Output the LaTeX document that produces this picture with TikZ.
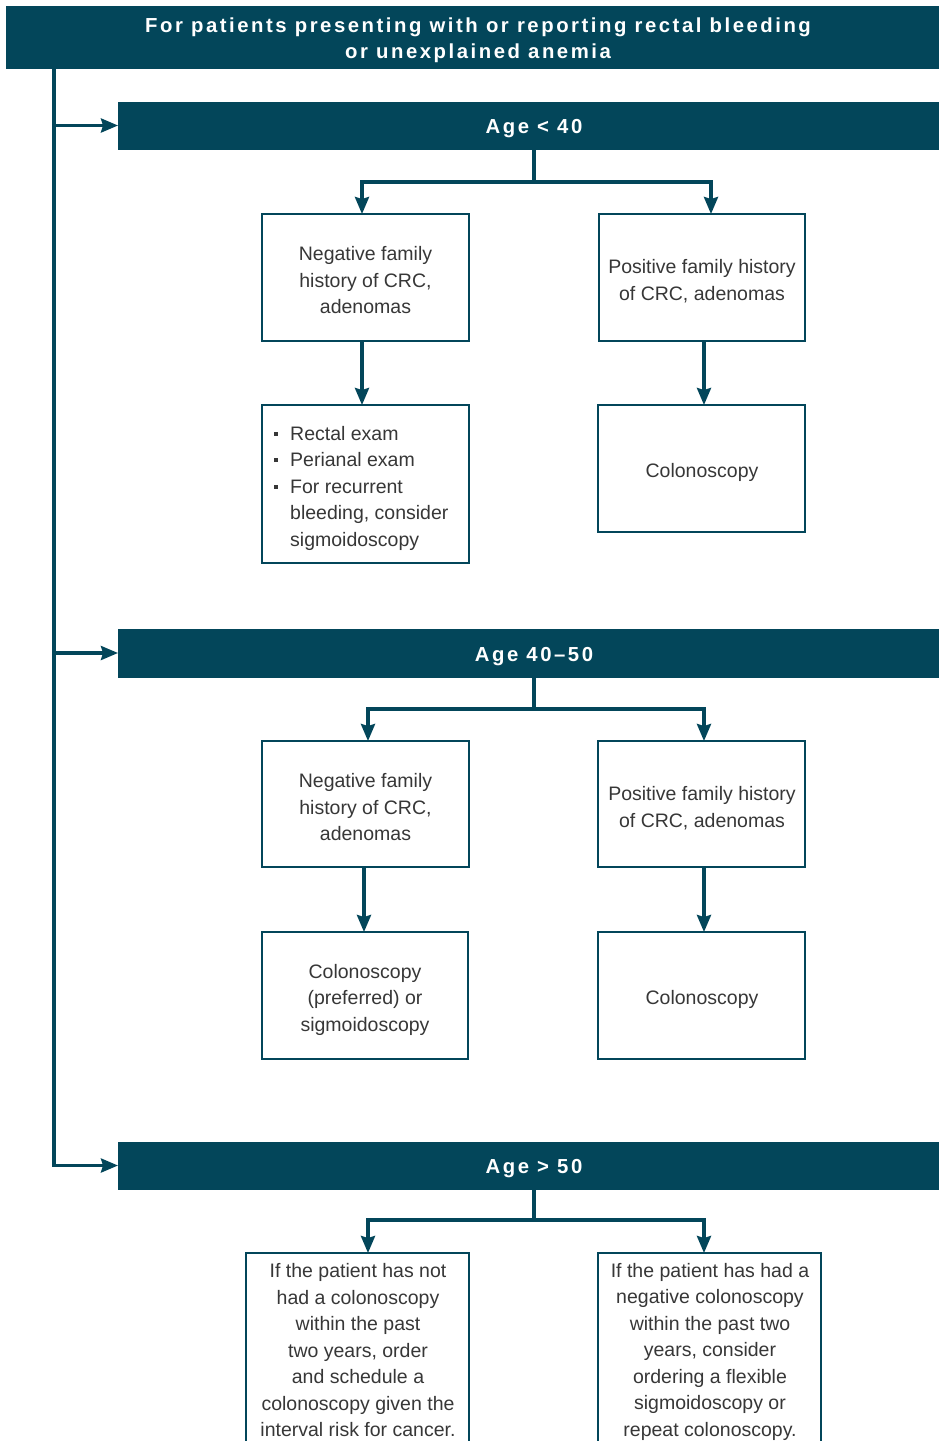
\documentclass[tikz,border=0pt]{standalone}
\usepackage{fontspec}
\setmainfont{Liberation Sans}
\newfontfamily\headfont[LetterSpace=12.5]{Liberation Sans Bold}
\usetikzlibrary{arrows.meta}
\definecolor{teal}{RGB}{3,70,90}
\definecolor{txt}{RGB}{55,55,55}
\tikzset{
  banner/.style={fill=teal,draw=teal,inner sep=0pt,outer sep=0pt,anchor=north west},
  htxt/.style={text=white,font=\headfont\fontsize{20.3}{26}\selectfont,align=center,inner sep=0pt},
  box/.style={draw=teal,line width=1.2pt,inner sep=0pt,outer sep=0pt,anchor=north west,text=txt},
  btxt/.style={text=txt,inner sep=0pt,align=center,font=\fontsize{19.5}{26.5}\selectfont},
  conn/.style={draw=teal,line width=3.2pt},
  arr/.style={conn,-{Stealth[length=17pt,width=14pt,inset=2pt]}},
}
\newcommand{\sqb}{\makebox[16pt][l]{\rule[4.5pt]{4pt}{4pt}}}
\begin{document}
\begin{tikzpicture}[x=1pt,y=-1pt]
\clip (0,0) rectangle (939,1441);
\useasboundingbox (0,0) rectangle (939,1441);
\fill[white] (0,0) rectangle (939,1441);
% banners
\node[banner,minimum width=933pt,minimum height=62pt] (top) at (6,6) {};
\node[htxt] (toptxt) at (478,40) {For patients presenting with or reporting rectal bleeding\\or unexplained anemia};
\node[banner,minimum width=821pt,minimum height=47pt] (age1) at (118,102) {};
\node[htxt] (age1t) at (534,128.5) {Age < 40};
\node[banner,minimum width=821pt,minimum height=48pt] (age2) at (118,629) {};
\node[htxt] (age2t) at (534,656.5) {Age 40–50};
\node[banner,minimum width=821pt,minimum height=47pt] (age3) at (118,1142) {};
\node[htxt] (age3t) at (534,1168.5) {Age > 50};
% section 1 boxes
\node[box,minimum width=207pt,minimum height=127pt] (nf1) at (262,214) {};
\node[btxt] (nf1t) at (365.5,280.5) {Negative family\\history of CRC,\\adenomas};
\node[box,minimum width=206pt,minimum height=127pt] (pf1) at (599,214) {};
\node[btxt] (pf1t) at (702,281) {Positive family history\\of CRC, adenomas};
\node[box,minimum width=207pt,minimum height=158pt] (r1) at (262,405) {};
\node[btxt,align=left,anchor=west] (r1t) at (274,488) {\sqb Rectal exam\\\sqb Perianal exam\\\sqb For recurrent\\\hspace*{16pt}bleeding, consider\\\hspace*{16pt}sigmoidoscopy};
\node[box,minimum width=207pt,minimum height=127pt] (c1) at (598,405) {};
\node[btxt] (c1t) at (702,472) {Colonoscopy};
% section 2 boxes
\node[box,minimum width=207pt,minimum height=126pt] (nf2) at (262,741) {};
\node[btxt] (nf2t) at (365.5,807.5) {Negative family\\history of CRC,\\adenomas};
\node[box,minimum width=207pt,minimum height=126pt] (pf2) at (598,741) {};
\node[btxt] (pf2t) at (702,808) {Positive family history\\of CRC, adenomas};
\node[box,minimum width=206pt,minimum height=127pt] (cp2) at (262,932) {};
\node[btxt] (cp2t) at (365,999.5) {Colonoscopy\\(preferred) or\\sigmoidoscopy};
\node[box,minimum width=207pt,minimum height=127pt] (c2) at (598,932) {};
\node[btxt] (c2t) at (702,999) {Colonoscopy};
% section 3 boxes
\node[box,minimum width=223pt,minimum height=200pt] (l3) at (246,1253) {};
\node[btxt] (l3t) at (358,1350.5) {If the patient has not\\had a colonoscopy\\within the past\\two years, order\\and schedule a\\colonoscopy given the\\interval risk for cancer.};
\node[box,minimum width=223pt,minimum height=200pt] (r3) at (598,1253) {};
\node[btxt] (r3t) at (710,1351.5) {If the patient has had a\\negative colonoscopy\\within the past two\\years, consider\\ordering a flexible\\sigmoidoscopy or\\repeat colonoscopy.};
% trunk
\coordinate (tr) at (54,0);
\draw[conn] (tr |- top.south) -- (tr |- age3.west);
\draw[arr] ([xshift=-1.6pt]tr |- age1.west) -- (age1.west);
\draw[arr] ([xshift=-1.6pt]tr |- age2.west) -- (age2.west);
\draw[arr] ([xshift=-1.6pt]tr |- age3.west) -- (age3.west);
% section 1 connectors
\coordinate (s1) at (534,182);
\coordinate (j1L) at (362,182);
\coordinate (j1R) at (711,182);
\draw[arr] (s1 |- age1.south) -- (s1) -- (j1L) -- (j1L |- nf1.north);
\draw[arr] (s1) -- (j1R) -- (j1R |- pf1.north);
\draw[arr] ([xshift=-3.5pt]nf1.south) -- ([xshift=-3.5pt]r1.north);
\draw[arr] ([xshift=2pt]pf1.south) -- ([xshift=2pt]pf1.south |- c1.north);
% section 2 connectors
\coordinate (s2) at (534,709);
\coordinate (j2L) at (368,709);
\coordinate (j2R) at (704,709);
\draw[arr] (s2 |- age2.south) -- (s2) -- (j2L) -- (j2L |- nf2.north);
\draw[arr] (s2) -- (j2R) -- (j2R |- pf2.north);
\draw[arr] ([xshift=-1.5pt]nf2.south) -- ([xshift=-1.5pt]nf2.south |- cp2.north);
\draw[arr] ([xshift=2.5pt]pf2.south) -- ([xshift=2.5pt]c2.north);
% section 3 connectors
\coordinate (s3) at (534,1220);
\coordinate (j3L) at (368,1220);
\coordinate (j3R) at (704,1220);
\draw[arr] (s3 |- age3.south) -- (s3) -- (j3L) -- (j3L |- l3.north);
\draw[arr] (s3) -- (j3R) -- (j3R |- r3.north);
\end{tikzpicture}
\end{document}
